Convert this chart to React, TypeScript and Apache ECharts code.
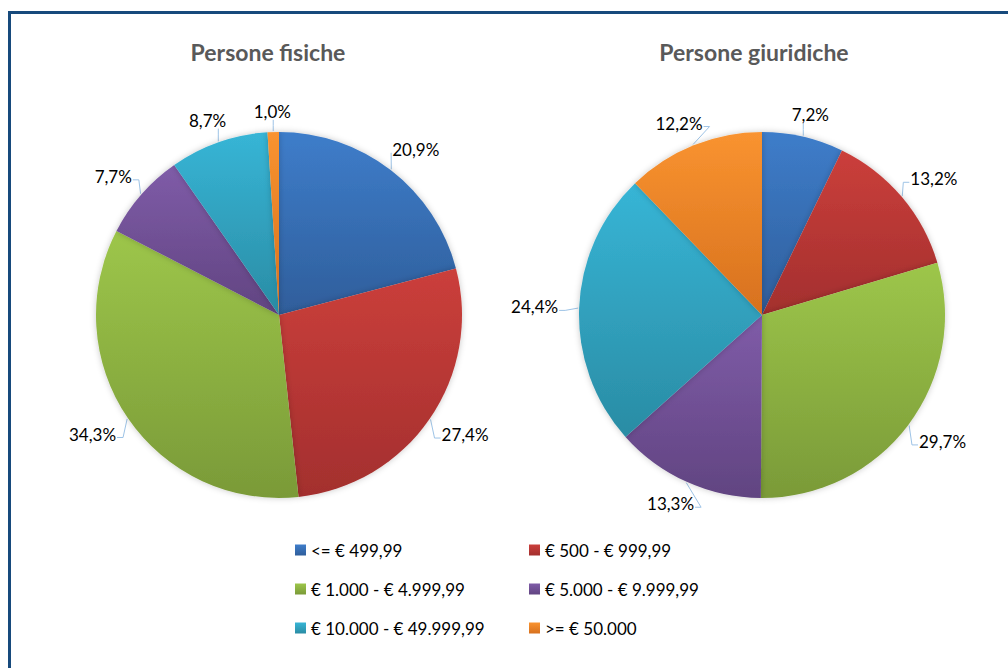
import React, { useEffect, useRef } from "react";
import * as echarts from "echarts";

const categories = [
  "<= € 499,99",
  "€ 500 - € 999,99",
  "€ 1.000 - € 4.999,99",
  "€ 5.000 - € 9.999,99",
  "€ 10.000 - € 49.999,99",
  ">= € 50.000",
];
const fisicheValues = [20.9, 27.4, 34.3, 7.7, 8.7, 1.0];
const giuridicheValues = [7.2, 13.2, 29.7, 13.3, 24.4, 12.2];
const chartTitles = ["Persone fisiche", "Persone giuridiche"];

const topColors = ["#3E7DCA", "#CB3F3B", "#9DC64A", "#7F5CA8", "#37B5D6", "#F99330"];
const bottomColors = ["#2F5E9B", "#A32F2E", "#7A9A38", "#614481", "#2A8CA4", "#D7711E"];

const FONT = 'Lato, "Open Sans", "Noto Sans", sans-serif';
const CY = 315;
const R = 183;

function grad(i: number) {
  return new echarts.graphic.LinearGradient(0, 0, 0, 1, [
    { offset: 0, color: topColors[i] },
    { offset: 1, color: bottomColors[i] },
  ]);
}

function fmt(v: number) {
  return v.toFixed(1).replace(".", ",") + "%";
}

// Place each label outward along its slice's mid-angle, Excel-like.
function makeLabelLayout(values: number[], cx: number) {
  const total = values.reduce((a, b) => a + b, 0);
  return (params: any) => {
    const i = params.dataIndex;
    let before = 0;
    for (let j = 0; j < i; j++) before += values[j];
    const mid = ((90 - ((before + values[i] / 2) / total) * 360) * Math.PI) / 180;
    const ux = Math.cos(mid);
    const uy = -Math.sin(mid);
    const w = params.labelRect.width;
    const h = params.labelRect.height;
    const g = 12 + 9 * Math.abs(ux);
    const x = cx + (R + g) * ux + (w / 2) * ux;
    const y = CY + (R + g) * uy + (h / 2) * uy;
    const ex = cx + (R + 1) * ux;
    const ey = CY + (R + 1) * uy;
    let pts: number[][];
    if (Math.abs(ux) < 0.35) {
      const ay = uy < 0 ? y + h / 2 : y - h / 2;
      pts = [[ex, ey], [ex, (ey + ay) / 2], [ex, ay]];
    } else {
      const s = ux > 0 ? 1 : -1;
      const ax = x - s * (w / 2 + 1);
      const ay = y + h * 0.2;
      const k = Math.min(6, Math.abs(ax - ex));
      pts = [[ex, ey], [ax - s * k, ay], [ax, ay]];
    }
    return { x, y, align: "center", verticalAlign: "middle", labelLinePoints: pts };
  };
}

function makeSeries(name: string, values: number[], cx: number) {
  return {
    type: "pie",
    name,
    center: [cx, CY],
    radius: R,
    startAngle: 90,
    clockwise: true,
    avoidLabelOverlap: false,
    emphasis: { disabled: true },
    itemStyle: {
      borderWidth: 0,
      shadowBlur: 6,
      shadowColor: "rgba(0,0,0,0.22)",
    },
    label: {
      show: true,
      position: "outside",
      formatter: (p: any) => fmt(p.value),
      fontSize: 17,
      color: "#000",
      fontFamily: FONT,
      padding: [0, 1],
    },
    labelLine: {
      show: true,
      length: 12,
      length2: 6,
      lineStyle: { color: "#9DC3E6", width: 1 },
    },
    labelLayout: makeLabelLayout(values, cx),
    data: values.map((v, i) => ({
      name: categories[i],
      value: v,
      itemStyle: { color: grad(i) },
    })),
  };
}

export default function App() {
  const ref = useRef<HTMLDivElement>(null);
  useEffect(() => {
    if (!ref.current) return;
    const chart = echarts.init(ref.current, undefined, { renderer: "svg" });
    const legendText = { fontSize: 17, color: "#000", fontFamily: FONT, lineHeight: 20 };
    const titleText = { fontSize: 23, fontWeight: "bold", color: "#595959", fontFamily: FONT };
    chart.setOption({
      animation: false,
      backgroundColor: "#fff",
      title: [
        { text: chartTitles[0], left: 268, top: 40, textAlign: "center", padding: 0, textStyle: titleText },
        { text: chartTitles[1], left: 754, top: 40, textAlign: "center", padding: 0, textStyle: titleText },
      ],
      legend: [
        {
          orient: "vertical",
          left: 295,
          top: 540,
          padding: 0,
          itemGap: 19,
          itemWidth: 11,
          itemHeight: 11,
          icon: "rect",
          selectedMode: false,
          data: [categories[0], categories[2], categories[4]],
          textStyle: legendText,
        },
        {
          orient: "vertical",
          left: 529,
          top: 540,
          padding: 0,
          itemGap: 19,
          itemWidth: 11,
          itemHeight: 11,
          icon: "rect",
          selectedMode: false,
          data: [categories[1], categories[3], categories[5]],
          textStyle: legendText,
        },
      ],
      graphic: [
        {
          type: "rect",
          silent: true,
          shape: { x: 9.5, y: 12.5, width: 1100, height: 700 },
          style: { fill: "none", stroke: "#174A7C", lineWidth: 3 },
        },
      ],
      series: [
        makeSeries(chartTitles[0], fisicheValues, 279),
        makeSeries(chartTitles[1], giuridicheValues, 762),
      ],
    });
    return () => chart.dispose();
  }, []);
  return (
    <div
      ref={ref}
      style={{ position: "fixed", left: 0, top: 0, width: 1008, height: 668, background: "#fff" }}
    />
  );
}
